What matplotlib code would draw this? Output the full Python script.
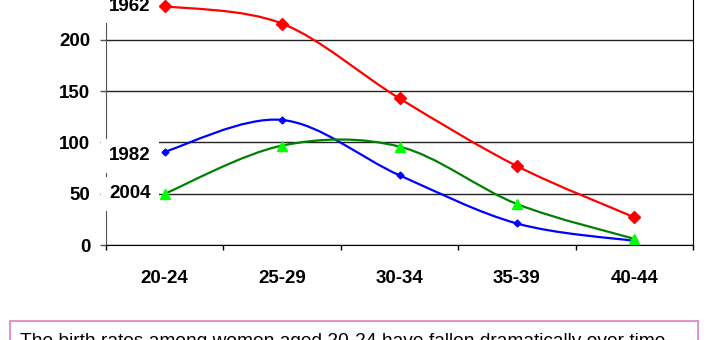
import matplotlib
matplotlib.use("Agg")
import matplotlib.pyplot as plt
import numpy as np
from matplotlib.path import Path
from matplotlib.patches import PathPatch, Rectangle

age_groups = ["20-24", "25-29", "30-34", "35-39", "40-44"]
rates_1962 = [233, 216, 143, 77, 27]
rates_1982 = [91, 122, 68, 21, 4]
rates_2004 = [50, 97, 96, 40, 6]
caption = "The birth rates among women aged 20-24 have fallen dramatically over time."

plt.rcParams['font.family'] = ['Liberation Sans', 'DejaVu Sans']


def smooth_path(x, y):
    # Excel-style smoothed line: cubic Bezier segments with Catmull-Rom control points
    pts = np.column_stack([x, y]).astype(float)
    n = len(pts)
    verts = [pts[0]]
    codes = [Path.MOVETO]
    for i in range(n - 1):
        p0 = pts[max(i - 1, 0)]
        p1 = pts[i]
        p2 = pts[i + 1]
        p3 = pts[min(i + 2, n - 1)]
        c1 = p1 + (p2 - p0) / 6
        c2 = p2 - (p3 - p1) / 6
        verts += [c1, c2, p2]
        codes += [Path.CURVE4] * 3
    return Path(verts, codes)


fig = plt.figure(figsize=(7.2, 3.4), dpi=100)
ax = fig.add_axes([106 / 720, 95 / 340, 587 / 720, 256.25 / 340])

x = np.arange(len(age_groups))
series = [
    ("1962", rates_1962, "#ff0000", "D", 6, "#ff0000", 0),
    ("1982", rates_1982, "#0000ff", "D", 3.5, "#0000ff", -4),
    ("2004", rates_2004, "#008000", "^", 7.5, "#00ff00", 0),
]
for name, vals, color, marker, ms, mcolor, dy in series:
    ax.add_patch(PathPatch(smooth_path(x, vals), facecolor="none", edgecolor=color,
                           lw=1.6, zorder=4, capstyle="round"))
    ax.plot(x, vals, linestyle="none", marker=marker, ms=ms, color=mcolor,
            markeredgecolor=mcolor, zorder=5)
    ax.annotate(name, xy=(x[0], vals[0]), xytext=(-14, dy), textcoords="offset pixels",
                ha="right", va="center", fontsize=13.5, fontweight="bold",
                bbox=dict(boxstyle="square,pad=0.45", fc="white", ec="none"), zorder=3.5)

ax.set_xlim(-0.5, len(age_groups) - 0.5)
ax.set_ylim(0, 250)
ax.set_yticks([0, 50, 100, 150, 200])
ax.set_xticks(x)
ax.set_xticklabels(age_groups, fontsize=13.5, fontweight="bold")
ax.set_xticks(np.arange(-0.5, len(age_groups)), minor=True)
ax.tick_params(axis="x", which="major", length=0, pad=18)
ax.tick_params(axis="x", which="minor", length=3.6, width=1, color="black")
ax.tick_params(axis="y", length=4.3, width=1, color="#555555", labelsize=13.5, pad=7)
for lab in ax.get_yticklabels():
    lab.set_fontweight("bold")

ax.yaxis.grid(True, color="#222222", lw=1)
ax.set_axisbelow(True)
ax.spines["top"].set_visible(False)
ax.spines["left"].set_color("#555555")
ax.spines["bottom"].set_color("black")
ax.spines["right"].set_color("black")

fig.add_artist(Rectangle((10 / 720, -0.2), 688 / 720, 0.2 + 19 / 340,
                         transform=fig.transFigure, fc="white", ec="#e080c0", lw=1.2))
fig.text(20 / 720, -6 / 340, caption, fontsize=13.8, va="baseline", ha="left")

fig.savefig("out.png", dpi=100)
